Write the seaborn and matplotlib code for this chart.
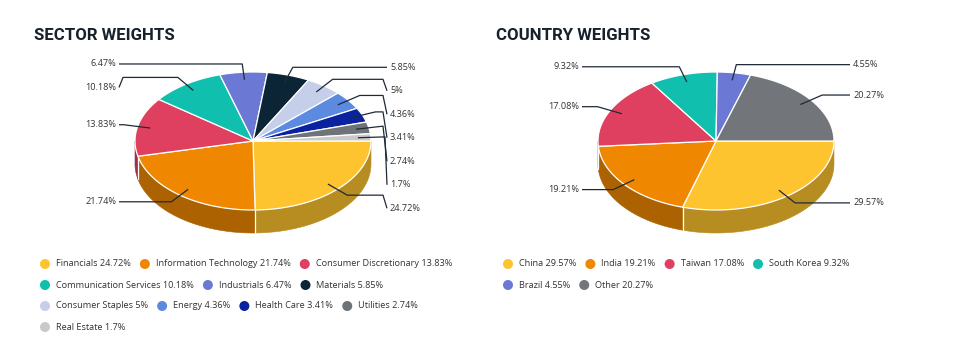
import numpy as np
import pandas as pd
import matplotlib
matplotlib.use("Agg")
import matplotlib.pyplot as plt
import matplotlib.colors as mcolors
import seaborn as sns

# Sector weights
sector_names = ["Financials", "Information Technology", "Consumer Discretionary",
                "Communication Services", "Industrials", "Materials", "Consumer Staples",
                "Energy", "Health Care", "Utilities", "Real Estate"]
sector_values = [24.72, 21.74, 13.83, 10.18, 6.47, 5.85, 5, 4.36, 3.41, 2.74, 1.7]
sector_colors = ["#FEC42F", "#EF8800", "#E0405F", "#10BFAD", "#6B79D4", "#0B2537",
                 "#C6CFEA", "#5B8AE0", "#0A22A0", "#6E7378", "#C9C9C9"]

# Country weights
country_names = ["China", "India", "Taiwan", "South Korea", "Brazil", "Other"]
country_values = [29.57, 19.21, 17.08, 9.32, 4.55, 20.27]
country_colors = ["#FEC42F", "#EF8800", "#E0405F", "#10BFAD", "#6B79D4", "#72767B"]

sns.set_theme(style="white")
plt.rcParams["font.family"] = ["Open Sans", "DejaVu Sans"]

RX, RY, DEPTH = 118, 69, 23
TEXT_C = "#333333"
LINE_C = "#1f2a36"


def ell(cx, cy, th, f=1.0, dy=0.0):
    return cx + RX * f * np.cos(th), cy + RY * f * np.sin(th) + dy


def shade(c, k=0.72):
    r, g, b = mcolors.to_rgb(c)
    return (r * k, g * k, b * k)


def draw_pie(ax, values, colors, cx, cy):
    vals = np.asarray(values, float)
    edges = np.concatenate([[0], np.cumsum(vals)]) / vals.sum() * 2 * np.pi
    # front side walls
    for a, b, c in zip(edges[:-1], edges[1:], colors):
        lo, hi = max(a, 0), min(b, np.pi)
        if hi > lo:
            th = np.linspace(lo, hi, 80)
            xt, yt = ell(cx, cy, th)
            xb, yb = ell(cx, cy, th[::-1], dy=DEPTH)
            ax.fill(np.r_[xt, xb], np.r_[yt, yb], fc=shade(c), ec=shade(c), lw=0.4, zorder=1)
    for e in edges[1:-1]:
        if 0 < e < np.pi:
            x, y = ell(cx, cy, e)
            ax.plot([x, x], [y, y + DEPTH], color="white", lw=0.9, zorder=2)
    # top faces
    for a, b, c in zip(edges[:-1], edges[1:], colors):
        th = np.linspace(a, b, 80)
        x, y = ell(cx, cy, th)
        ax.fill(np.r_[cx, x], np.r_[cy, y], fc=c, ec="white", lw=0.9, zorder=3)

    # data labels with crooked connectors
    mids = (edges[:-1] + edges[1:]) / 2
    items = []
    for v, m in zip(vals, mids):
        axx, axy = ell(cx, cy, m, 0.89)
        ex, ey = ell(cx, cy, m, 1.12)
        side = 1 if np.cos(m) >= 0 else -1
        items.append(dict(v=v, ax=axx, ay=axy, ex=ex, ey=ey, side=side))
    for side in (1, -1):
        prev = -1e9
        for it in sorted([i for i in items if i["side"] == side], key=lambda i: i["ey"]):
            it["ly"] = max(it["ey"], prev + 23.5)
            prev = it["ly"]
    for it in items:
        s = it["side"]
        crook = cx + s * 130
        crook = max(crook, it["ex"]) if s > 0 else min(crook, it["ex"])
        ax.plot([it["ax"], it["ex"], crook, cx + s * 134],
                [it["ay"], it["ey"], it["ey"], it["ly"]],
                color=LINE_C, lw=0.9, zorder=4, solid_capstyle="butt")
        ax.text(cx + s * 137, it["ly"], f"{it['v']:g}%", ha="left" if s > 0 else "right",
                va="center", fontsize=6.6, color=TEXT_C, zorder=5)


def draw_legend(ax, renderer, names, values, colors, x0, y0, rows):
    recs = []
    k = 0
    for r, n in enumerate(rows):
        x = x0
        y = y0 + 21 * r
        for _ in range(n):
            t = ax.text(x + 11, y, f"{names[k]} {values[k]:g}%", ha="left", va="center",
                        fontsize=6.6, color=TEXT_C)
            w = t.get_window_extent(renderer).width
            recs.append(dict(x=x, y=y, name=names[k]))
            x = x + 11 + w + 14
            k += 1
    df = pd.DataFrame(recs)
    sns.scatterplot(data=df, x="x", y="y", hue="name", palette=dict(zip(names, colors)),
                    s=52, linewidth=0, legend=False, ax=ax, zorder=5)


fig = plt.figure(figsize=(9.73, 3.62), dpi=100)
ax = fig.add_axes([0, 0, 1, 1])
renderer = fig.canvas.get_renderer()

draw_pie(ax, sector_values, sector_colors, 253, 141)
draw_pie(ax, country_values, country_colors, 716, 141)

ax.text(34, 36, "SECTOR WEIGHTS", family="Roboto", weight="bold", fontsize=12.1,
        color="#17212b", ha="left", va="center")
ax.text(496, 36, "COUNTRY WEIGHTS", family="Roboto", weight="bold", fontsize=12.1,
        color="#17212b", ha="left", va="center")

draw_legend(ax, renderer, sector_names, sector_values, sector_colors, 45, 264, [3, 3, 4, 1])
draw_legend(ax, renderer, country_names, country_values, country_colors, 508, 264, [4, 2])

ax.set_xlim(0, 973)
ax.set_ylim(362, 0)
ax.set_axis_off()
fig.savefig("out.png", dpi=100, facecolor="white")
